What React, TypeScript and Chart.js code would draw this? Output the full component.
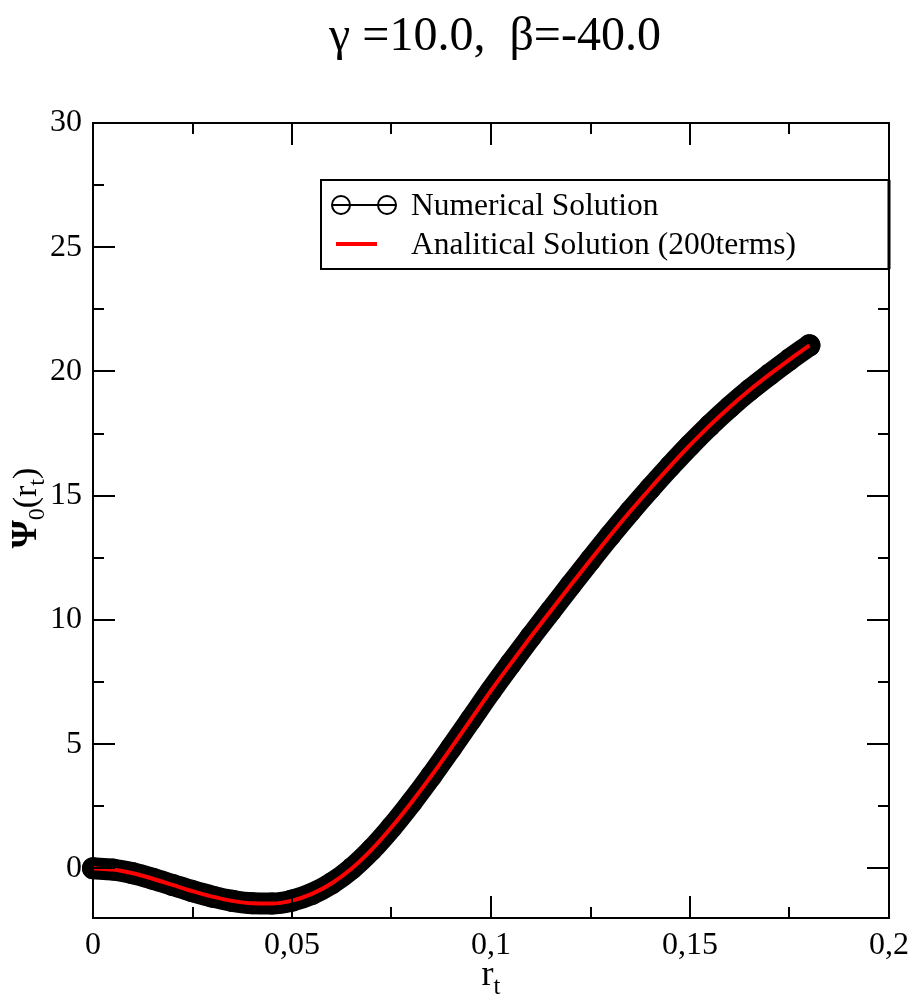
import React, { useEffect, useRef } from 'react';
import { Chart, registerables } from 'chart.js';

Chart.register(...registerables);

// ---- data ----
const rValues = [
  0, 0.005, 0.01, 0.015, 0.02, 0.025, 0.03, 0.035, 0.04, 0.045,
  0.05, 0.055, 0.06, 0.065, 0.07, 0.075, 0.08, 0.085, 0.09, 0.095,
  0.1, 0.105, 0.11, 0.115, 0.12, 0.125, 0.13, 0.135, 0.14, 0.145,
  0.15, 0.155, 0.16, 0.165, 0.17, 0.175, 0.18,
];
const numericalPsi = [
  0, -0.05, -0.2, -0.42, -0.67, -0.92, -1.14, -1.31, -1.41, -1.42,
  -1.3, -1.03, -0.6, -0.01, 0.75, 1.65, 2.65, 3.72, 4.85, 6.0,
  7.15, 8.25, 9.32, 10.36, 11.39, 12.41, 13.41, 14.37, 15.29, 16.18,
  17.03, 17.83, 18.57, 19.25, 19.88, 20.48, 21.05,
];
const analyticalPsi = [
  0, -0.05, -0.2, -0.42, -0.67, -0.92, -1.14, -1.31, -1.41, -1.42,
  -1.3, -1.03, -0.6, -0.01, 0.75, 1.65, 2.65, 3.72, 4.85, 6.0,
  7.15, 8.25, 9.32, 10.36, 11.39, 12.41, 13.41, 14.37, 15.29, 16.18,
  17.03, 17.83, 18.57, 19.25, 19.88, 20.48, 21.05,
];
const xTickValues = [0, 0.05, 0.1, 0.15, 0.2];
const xTickLabels = ['0', '0,05', '0,1', '0,15', '0,2'];
const xMinorTicks = [0.025, 0.075, 0.125, 0.175];
const yTickValues = [0, 5, 10, 15, 20, 25, 30];
const yTickLabels = ['0', '5', '10', '15', '20', '25', '30'];
const yMinorTicks = [2.5, 7.5, 12.5, 17.5, 22.5, 27.5];
const titleText = 'γ =10.0,  β=-40.0';
const legendLabels = ['Numerical Solution', 'Analitical Solution (200terms)'];

const SERIF = '"Liberation Serif", "Times New Roman", serif';

const decorPlugin = {
  id: 'decor',
  afterDatasetsDraw(chart: any) {
    const { ctx, chartArea: a, scales } = chart;
    const x = scales.x;
    const y = scales.y;
    ctx.save();
    ctx.strokeStyle = '#000';
    ctx.lineWidth = 2;
    ctx.strokeRect(a.left, a.top, a.right - a.left, a.bottom - a.top);
    const major = 22;
    const minor = 11;
    ctx.beginPath();
    const xt = (v: number, len: number) => {
      const px = Math.round(x.getPixelForValue(v));
      ctx.moveTo(px, a.bottom);
      ctx.lineTo(px, a.bottom - len);
      ctx.moveTo(px, a.top);
      ctx.lineTo(px, a.top + len);
    };
    const yt = (v: number, len: number) => {
      const py = Math.round(y.getPixelForValue(v));
      ctx.moveTo(a.left, py);
      ctx.lineTo(a.left + len, py);
      ctx.moveTo(a.right, py);
      ctx.lineTo(a.right - len, py);
    };
    xTickValues.forEach((v) => xt(v, major));
    xMinorTicks.forEach((v) => xt(v, minor));
    yTickValues.forEach((v) => yt(v, major));
    yMinorTicks.forEach((v) => yt(v, minor));
    ctx.stroke();
    ctx.restore();
  },
  afterDraw(chart: any) {
    const { ctx, chartArea: a } = chart;
    ctx.save();
    ctx.fillStyle = '#000';
    // title
    ctx.font = `48px ${SERIF}`;
    ctx.textAlign = 'center';
    ctx.textBaseline = 'alphabetic';
    ctx.fillText(titleText, (a.left + a.right) / 2 + 4, 50);

    // x axis title r_t
    ctx.textAlign = 'left';
    const big = `36px ${SERIF}`;
    const small = `25px ${SERIF}`;
    ctx.font = big;
    const wr = ctx.measureText('r').width;
    ctx.font = small;
    const wt = ctx.measureText('t').width;
    const sx = (a.left + a.right) / 2 - (wr + wt) / 2;
    ctx.font = big;
    ctx.fillText('r', sx, 985);
    ctx.font = small;
    ctx.fillText('t', sx + wr, 994);

    // y axis title Ψ0(rt)
    ctx.save();
    ctx.translate(36, 508);
    ctx.rotate(-Math.PI / 2);
    const ysmall = `24px ${SERIF}`;
    const ybig = `34px ${SERIF}`;
    const parts: [string, string, number][] = [
      ['Ψ', `bold 36px ${SERIF}`, 0],
      ['0', ysmall, 8],
      ['(r', ybig, 0],
      ['t', ysmall, 8],
      [')', ybig, 0],
    ];
    let total = 0;
    parts.forEach(([t, f]) => {
      ctx.font = f;
      total += ctx.measureText(t).width;
    });
    let px = -total / 2;
    parts.forEach(([t, f, dy]) => {
      ctx.font = f;
      ctx.fillText(t, px, dy);
      px += ctx.measureText(t).width;
    });
    ctx.restore();

    // legend
    const lx = 321;
    const ly = 180;
    const lw = 568;
    const lh = 89;
    ctx.fillStyle = '#fff';
    ctx.fillRect(lx, ly, lw, lh);
    ctx.strokeStyle = '#000';
    ctx.lineWidth = 2;
    ctx.strokeRect(lx, ly, lw, lh);
    ctx.lineWidth = 3;
    ctx.beginPath();
    ctx.moveTo(a.right, ly);
    ctx.lineTo(a.right, ly + lh);
    ctx.stroke();
    // symbol 1 : circle - line - circle
    ctx.lineWidth = 2;
    ctx.beginPath();
    ctx.moveTo(332, 205);
    ctx.lineTo(396, 205);
    ctx.stroke();
    [341, 387].forEach((cx) => {
      ctx.beginPath();
      ctx.arc(cx, 205, 9, 0, Math.PI * 2);
      ctx.stroke();
    });
    // symbol 2
    ctx.strokeStyle = '#ff0000';
    ctx.lineWidth = 4;
    ctx.beginPath();
    ctx.moveTo(336, 244);
    ctx.lineTo(377, 244);
    ctx.stroke();
    ctx.fillStyle = '#000';
    ctx.font = `31.5px ${SERIF}`;
    ctx.textAlign = 'left';
    ctx.fillText(legendLabels[0], 411, 215);
    ctx.fillText(legendLabels[1], 411, 254);
    ctx.restore();
  },
};

export default function App() {
  const ref = useRef<HTMLCanvasElement | null>(null);
  useEffect(() => {
    if (!ref.current) return;
    const chart = new Chart(ref.current, {
      type: 'line',
      data: {
        datasets: [
          {
            label: legendLabels[1],
            data: rValues.map((r, i) => ({ x: r, y: analyticalPsi[i] })),
            borderColor: '#ff0000',
            borderWidth: 4,
            pointRadius: 0,
            cubicInterpolationMode: 'monotone',
            order: 0,
            clip: false as any,
          },
          {
            label: legendLabels[0],
            data: rValues.map((r, i) => ({ x: r, y: numericalPsi[i] })),
            borderColor: '#000',
            borderWidth: 22,
            borderCapStyle: 'round',
            borderJoinStyle: 'round',
            pointRadius: 11,
            pointBackgroundColor: '#000',
            pointBorderWidth: 0,
            cubicInterpolationMode: 'monotone',
            order: 1,
            clip: false as any,
          },
        ],
      },
      options: {
        animation: false,
        responsive: false,
        events: [],
        layout: { padding: { top: 123, right: 23, left: 0, bottom: 0 } },
        plugins: {
          legend: { display: false },
          title: { display: false },
          tooltip: { enabled: false },
        },
        scales: {
          x: {
            type: 'linear',
            min: 0,
            max: 0.2,
            afterBuildTicks: (s: any) => {
              s.ticks = xTickValues.map((v) => ({ value: v }));
            },
            afterFit: (s: any) => {
              s.height = 78;
              s.paddingLeft = 0;
              s.paddingRight = 0;
            },
            grid: { display: false, drawTicks: false },
            border: { display: false },
            ticks: {
              color: '#000',
              padding: 8,
              maxRotation: 0,
              autoSkip: false,
              font: { family: SERIF, size: 32 },
              callback: (v: any) => xTickLabels[xTickValues.indexOf(Number(v))] ?? '',
            },
          },
          y: {
            type: 'linear',
            min: -2,
            max: 30,
            afterBuildTicks: (s: any) => {
              s.ticks = yTickValues.map((v) => ({ value: v }));
            },
            afterFit: (s: any) => {
              s.width = 93;
              s.paddingTop = 0;
              s.paddingBottom = 0;
            },
            grid: { display: false, drawTicks: false },
            border: { display: false },
            ticks: {
              color: '#000',
              padding: 11,
              autoSkip: false,
              font: { family: SERIF, size: 32 },
              callback: (v: any) => yTickLabels[yTickValues.indexOf(Number(v))] ?? '',
            },
          },
        },
      },
      plugins: [decorPlugin],
    });
    return () => chart.destroy();
  }, []);
  return (
    <div style={{ position: 'fixed', left: 0, top: 0, width: 912, height: 996, background: '#fff' }}>
      <canvas ref={ref} width={912} height={996} style={{ width: 912, height: 996, display: 'block' }} />
    </div>
  );
}
